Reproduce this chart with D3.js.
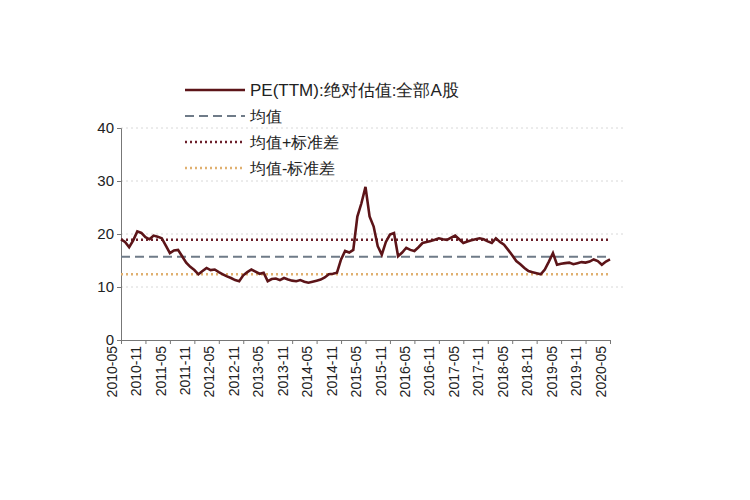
<!DOCTYPE html><html><head><meta charset="utf-8">
<script src="https://cdn.jsdelivr.net/npm/d3@7"></script>
<style>body{margin:0;background:#fff}text{font-family:"Liberation Sans",Arial,sans-serif}</style></head><body>
<svg id="c" width="750" height="500"></svg>
<script>
const startYear=2010,startMonth=5;
const peValues=[19,18.5,17.5,18.8,20.5,20.2,19.4,19.0,19.7,19.5,19.2,
17.8,16.4,16.9,17,15.8,14.6,13.8,13.2,12.4,13.0,
13.6,13.2,13.3,12.8,12.4,12.0,11.7,11.3,11.1,12.2,
12.8,13.3,12.9,12.5,12.7,11.1,11.5,11.6,11.3,11.7,
11.4,11.2,11.1,11.3,11.0,10.8,11.0,11.2,11.4,11.8,
12.4,12.5,12.7,15.2,16.8,16.5,17.0,23.3,25.8,28.9,
23.3,21.4,17.7,16.1,18.5,19.9,20.2,15.8,16.5,17.4,
17.0,16.8,17.5,18.3,18.5,18.7,18.9,19.2,19.0,18.9,
19.3,19.7,19.0,18.3,18.6,18.8,19.0,19.2,19.0,18.6,
18.3,19.2,18.5,18.0,17.0,16.0,14.9,14.3,13.6,13.0,
12.8,12.6,12.4,13.3,14.8,16.4,14.2,14.4,14.5,14.6,
14.3,14.5,14.7,14.6,14.8,15.2,14.9,14.2,14.8,15.2];
const meanValue=15.7, plusSd=18.9, minusSd=12.4;
const yTicks=[0,10,20,30,40];
const legendLabels=["PE(TTM):绝对估值:全部A股","均值","均值+标准差","均值-标准差"];
const labelOf=i=>{const t=startMonth-1+i;const y=startYear+Math.floor(t/12),m=t%12+1;return y+"-"+String(m).padStart(2,"0");};
const tickIdx=d3.range(0,peValues.length,6);

const svg=d3.select("#c");
const x=d3.scaleLinear().domain([0,peValues.length-1]).range([121,610]);
const y=d3.scaleLinear().domain([0,40]).range([340,128]);
svg.append("g").selectAll("line").data(yTicks.filter(d=>d>0)).join("line")
 .attr("x1",121).attr("x2",625).attr("y1",y).attr("y2",y)
 .attr("stroke","#d8d8d8").attr("stroke-dasharray","2,3");
const ya=svg.append("g").attr("transform","translate(121,0)").call(d3.axisLeft(y).tickValues(yTicks).tickSize(4));
ya.selectAll("text").attr("font-size",15).attr("fill","#222");
const xa=svg.append("g").attr("transform","translate(0,340)").call(d3.axisBottom(x).tickValues(tickIdx).tickFormat(labelOf).tickSize(4));
xa.selectAll("text").attr("font-size",14).attr("fill","#222").attr("transform","rotate(-90)")
 .attr("text-anchor","end").attr("dx","-6").attr("dy","-0.35em").attr("y",0).attr("x",0);
svg.selectAll(".domain,.tick line").attr("stroke","#777");
const refs=[[meanValue,"#6f7b88","9,5",2],[plusSd,"#6b1f2a","2,3",2.5],[minusSd,"#e0b070","2,3",2.5]];
refs.forEach(([v,c,da,w])=>svg.append("line").attr("x1",x(0)).attr("x2",x(peValues.length-1)).attr("y1",y(v)).attr("y2",y(v)).attr("stroke",c).attr("stroke-dasharray",da).attr("stroke-width",w));
svg.append("path").datum(peValues).attr("d",d3.line().x((d,i)=>x(i)).y(d=>y(d))).attr("fill","none").attr("stroke","#5c1418").attr("stroke-width",2.6);
const lg=[["#5c1418",null,2.5],["#6f7b88","9,5",2],["#6b1f2a","2,3",2.5],["#e0b070","2,3",2.5]];
lg.forEach(([c,da,w],i)=>{const ly=90+i*26;
 svg.append("line").attr("x1",185).attr("x2",245).attr("y1",ly).attr("y2",ly).attr("stroke",c).attr("stroke-width",w).attr("stroke-dasharray",da);
 svg.append("text").attr("x",250).attr("y",ly+6).attr("font-size",i==0?17:16).attr("fill","#222").text(legendLabels[i]);});
</script></body></html>
